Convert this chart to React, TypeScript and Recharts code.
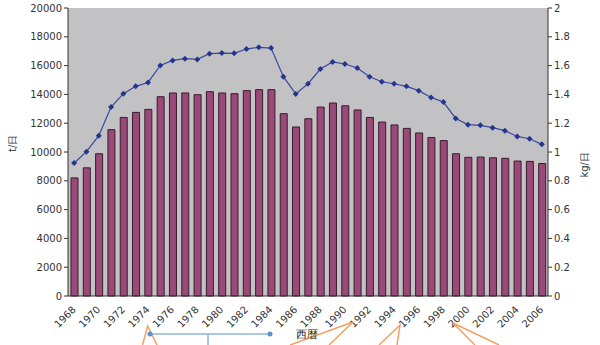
import React from 'react';
import {
  ComposedChart,
  Bar,
  Line,
  XAxis,
  YAxis,
  CartesianGrid,
} from 'recharts';

const years = [
  1968, 1969, 1970, 1971, 1972, 1973, 1974, 1975, 1976, 1977,
  1978, 1979, 1980, 1981, 1982, 1983, 1984, 1985, 1986, 1987,
  1988, 1989, 1990, 1991, 1992, 1993, 1994, 1995, 1996, 1997,
  1998, 1999, 2000, 2001, 2002, 2003, 2004, 2005, 2006,
];

// 総排出量 (t/日)
const totalTons = [
  8200, 8900, 9880, 11550, 12400, 12750, 12960, 13840, 14100, 14100,
  13980, 14190, 14100, 14050, 14260, 14330, 14330, 12660, 11740, 12310,
  13120, 13400, 13210, 12920, 12400, 12080, 11880, 11640, 11320, 11010,
  10790, 9880, 9630, 9650, 9600, 9560, 9370, 9350, 9200,
];

// 1人1日あたり (kg/日)
const perCapita = [
  0.924, 1.002, 1.113, 1.312, 1.405, 1.456, 1.483, 1.601, 1.636, 1.648,
  1.643, 1.683, 1.687, 1.685, 1.715, 1.727, 1.722, 1.523, 1.403, 1.474,
  1.576, 1.625, 1.611, 1.583, 1.523, 1.488, 1.474, 1.456, 1.426, 1.379,
  1.347, 1.233, 1.19, 1.185, 1.169, 1.148, 1.108, 1.092, 1.053,
];

const leftTicks = [0, 2000, 4000, 6000, 8000, 10000, 12000, 14000, 16000, 18000, 20000];
const rightTicks = [0, 0.2, 0.4, 0.6, 0.8, 1, 1.2, 1.4, 1.6, 1.8, 2];

const data = years.map((y, i) => ({
  year: String(y),
  tons: totalTons[i],
  kg: perCapita[i],
}));

const FONT = '"DejaVu Sans", Arial, sans-serif';
const tickStyle = { fontSize: 10, fill: '#333', fontFamily: FONT };

const Diamond = (props: any) => {
  const { cx, cy, index } = props;
  if (cx == null || cy == null) return null;
  const r = 3;
  return (
    <polygon
      key={`d-${index}`}
      points={`${cx},${cy - r} ${cx + r},${cy} ${cx},${cy + r} ${cx - r},${cy}`}
      fill="#25358f"
    />
  );
};

const XTick = (props: any) => {
  const { x, y, payload } = props;
  return (
    <g transform={`translate(${x - 2},${y + 2})`}>
      <text
        textAnchor="end"
        transform="rotate(-45)"
        dy={6}
        style={tickStyle}
      >
        {payload.value}
      </text>
    </g>
  );
};

export default function App() {
  return (
    <div style={{ position: 'absolute', left: 0, top: 0, width: 600, height: 345, background: '#fff' }}>
      <ComposedChart
        width={600}
        height={345}
        data={data}
        margin={{ top: 8, right: 0, bottom: 0, left: 0 }}
        barCategoryGap="42%"
      >
        <CartesianGrid fill="#c2c2c4" stroke="none" vertical={false} horizontal={false} />
        <XAxis
          dataKey="year"
          height={49}
          interval={1}
          tick={<XTick />}
          tickLine={false}
          axisLine={{ stroke: '#333' }}
        />
        <YAxis
          yAxisId="left"
          width={68}
          domain={[0, 20000]}
          ticks={leftTicks}
          tick={tickStyle}
          tickSize={4}
          tickLine={{ stroke: '#333' }}
          axisLine={{ stroke: '#333' }}
          label={{
            value: 't/日',
            angle: -90,
            position: 'insideLeft',
            offset: 12,
            style: { fontSize: 10, fill: '#333', fontFamily: FONT },
          }}
        />
        <YAxis
          yAxisId="right"
          orientation="right"
          width={52}
          domain={[0, 2]}
          ticks={rightTicks}
          tickFormatter={(v: number) => String(+v.toFixed(1))}
          tick={tickStyle}
          tickSize={4}
          tickLine={{ stroke: '#333' }}
          axisLine={{ stroke: '#333' }}
          label={{
            value: 'kg/日',
            angle: -90,
            position: 'insideRight',
            offset: 16,
            style: { fontSize: 10, fill: '#333', fontFamily: FONT },
          }}
        />
        <Bar
          yAxisId="left"
          dataKey="tons"
          fill="#9a4a78"
          stroke="#3a1a2c"
          strokeWidth={1}
          barSize={7}
          isAnimationActive={false}
        />
        <Line
          yAxisId="right"
          dataKey="kg"
          type="linear"
          stroke="#3b48a0"
          strokeWidth={1.2}
          dot={<Diamond />}
          activeDot={false}
          isAnimationActive={false}
        />
      </ComposedChart>
      {/* 下部の注記(切れている図の一部) */}
      <svg
        width={600}
        height={345}
        style={{ position: 'absolute', left: 0, top: 0, pointerEvents: 'none' }}
      >
        <g stroke="#f2a060" strokeWidth={1.5} fill="none">
          <polyline points="142.5,345 147.7,326 157,345" />
          <polyline points="290,345 353,322 329,345" />
          <polyline points="379,345 400,325 397,345" />
          <polyline points="475,345 453,323 499,345" />
        </g>
        <g stroke="#8fb4dc" strokeWidth={1.5}>
          <line x1={150} y1={334} x2={270} y2={334} />
          <line x1={208} y1={334} x2={208} y2={345} />
        </g>
        <circle cx={150} cy={334} r={2.5} fill="#5b8fcf" />
        <circle cx={270} cy={334} r={2.5} fill="#5b8fcf" />
        <text x={296} y={338} fontSize={11} fill="#222" fontFamily={FONT}>西暦</text>
      </svg>
    </div>
  );
}
